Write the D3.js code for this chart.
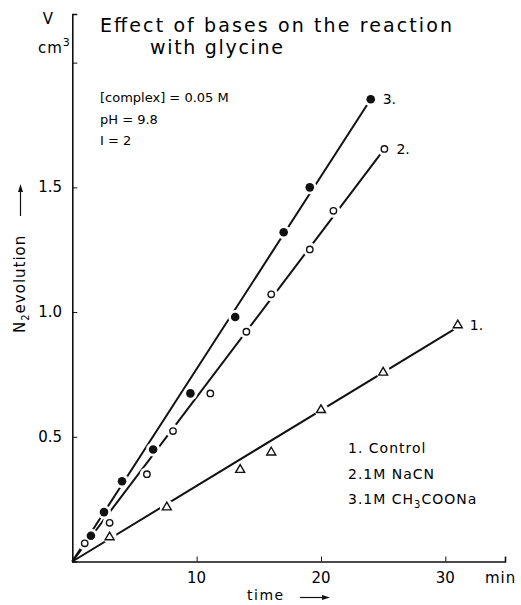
<!DOCTYPE html>
<html>
<head>
<meta charset="utf-8">
<script src="https://cdn.jsdelivr.net/npm/d3@7"></script>
<style>
  body { margin: 0; background: #fff; }
  svg { font-family: 'DejaVu Sans', sans-serif; }
  .axis path, .axis line { stroke: #111; }
</style>
</head>
<body>
<svg id="chart" width="521" height="605"></svg>
<script>
// data: [time (min), V (cm3)]
let control = [[3.0, 0.10], [7.6, 0.22], [13.5, 0.37], [16.0, 0.44], [20.0, 0.61], [25.0, 0.76], [31.0, 0.95]]
let nacn = [[1.0, 0.073], [3.0, 0.155], [6.0, 0.35], [8.1, 0.523], [11.1, 0.674], [14.0, 0.921], [16.0, 1.071], [19.1, 1.251], [21.0, 1.406], [25.1, 1.654]]
let acetate = [[1.5, 0.103], [2.55, 0.198], [4.0, 0.322], [6.5, 0.449], [9.5, 0.674], [13.1, 0.98], [17.0, 1.32], [19.1, 1.50], [24.0, 1.853]]
// straight lines drawn through each set
let fitControl = [[0, 0], [31.0, 0.94]]
let fitNacn = [[0, 0], [25.1, 1.654]]
let fitAcetate = [[0, 0], [24.0, 1.853]]
let xTicks = [10, 20, 30]
let yTicks = [0.5, 1.0, 1.5, 2.0]
let yTickLabels = ['0.5', '1.0', '1.5', '']
let legendLines = ['1. Control', '2.1M NaCN', '3.1M CH3COONa']
let notes = ['[complex] = 0.05 M', 'pH = 9.8', 'I = 2']

let svg = d3.select('#chart')
let x = d3.scaleLinear().domain([0, 34.8]).range([72.3, 505])
let y = d3.scaleLinear().domain([0, 2.195]).range([561.5, 14])

// axes, ticks pointing inward
let xAxis = d3.axisTop(x).tickValues(xTicks).tickSize(5).tickFormat('')
svg.append('g').attr('class', 'axis').attr('transform', 'translate(0,' + y(0) + ')').call(xAxis)
    .call(g => g.select('.domain').attr('stroke-width', 1.6))
let yAxis = d3.axisRight(y).tickValues(yTicks).tickSize(5).tickFormat('')
svg.append('g').attr('class', 'axis').attr('transform', 'translate(' + x(0) + ',0)').call(yAxis)
    .call(g => g.select('.domain').attr('stroke-width', 1.6))

// tick labels
svg.selectAll('.xlab').data(xTicks).enter().append('text')
    .attr('x', d => x(d)).attr('y', 583).attr('text-anchor', 'middle')
    .attr('font-size', 15).text(d => d)
svg.selectAll('.ylab').data(yTicks).enter().append('text')
    .attr('x', 62).attr('y', d => y(d) + 5).attr('text-anchor', 'end')
    .attr('font-size', 15).text((d, i) => yTickLabels[i])

// axis titles
svg.append('text').attr('x', 485).attr('y', 583).attr('font-size', 15)
    .attr('letter-spacing', 1).text('min')
svg.append('text').attr('x', 247).attr('y', 600).attr('font-size', 14)
    .attr('letter-spacing', 1.5).text('time')
svg.append('line').attr('x1', 300).attr('x2', 324).attr('y1', 597.5).attr('y2', 597.5)
    .attr('stroke', '#111').attr('stroke-width', 1.2)
svg.append('path').attr('d', 'M322,595 L330,597.5 L322,600 Z').attr('fill', '#111')

svg.append('text').attr('x', 48).attr('y', 24).attr('font-size', 15)
    .attr('text-anchor', 'middle').text('V')
let cm = svg.append('text').attr('x', 38).attr('y', 53).attr('font-size', 15).attr('letter-spacing', 1)
cm.append('tspan').text('cm')
cm.append('tspan').attr('dy', -7).attr('font-size', 11).text('3')

let yl = svg.append('text').attr('transform', 'translate(25,333) rotate(-90)')
    .attr('font-size', 15).attr('letter-spacing', 1)
yl.append('tspan').text('N')
yl.append('tspan').attr('dy', 4).attr('font-size', 10).text('2')
yl.append('tspan').attr('dy', -4).text('evolution')
svg.append('line').attr('x1', 20.5).attr('x2', 20.5).attr('y1', 216).attr('y2', 190)
    .attr('stroke', '#111').attr('stroke-width', 1.2)
svg.append('path').attr('d', 'M18,192 L20.5,184 L23,192 Z').attr('fill', '#111')

// title
svg.append('text').attr('x', 100).attr('y', 32).attr('font-size', 19)
    .attr('textLength', 352).attr('lengthAdjust', 'spacing')
    .text('Effect of bases on the reaction')
svg.append('text').attr('x', 150).attr('y', 54).attr('font-size', 19)
    .attr('textLength', 133).attr('lengthAdjust', 'spacing')
    .text('with glycine')

// conditions
svg.selectAll('.note').data(notes).enter().append('text')
    .attr('x', 100).attr('y', (d, i) => 102 + i * 21.5)
    .attr('font-size', 13).text(d => d)

// legend
let leg = svg.selectAll('.leg').data(legendLines).enter().append('text')
    .attr('x', 348).attr('y', (d, i) => 453 + i * 25.5)
    .attr('font-size', 14).attr('letter-spacing', 1)
leg.each(function (d) {
    let t = d3.select(this)
    if (d.indexOf('CH3') !== -1) {
        t.append('tspan').text('3.1M CH')
        t.append('tspan').attr('dy', 4).attr('font-size', 10).text('3')
        t.append('tspan').attr('dy', -4).text('COONa')
    } else {
        t.text(d)
    }
})

// fitted lines
let line = d3.line().x(d => x(d[0])).y(d => y(d[1]))
;[fitControl, fitNacn, fitAcetate].forEach(f => {
    svg.append('path').datum(f).attr('d', line)
        .attr('fill', 'none').attr('stroke', '#111').attr('stroke-width', 2)
})

// white halos cut the lines around the markers
let allPts = control.concat(nacn).concat(acetate)
svg.selectAll('.halo').data(allPts).enter().append('circle')
    .attr('cx', d => x(d[0])).attr('cy', d => y(d[1])).attr('r', 7).attr('fill', '#fff')

// markers
svg.selectAll('.tri').data(control).enter().append('path')
    .attr('transform', d => 'translate(' + x(d[0]) + ',' + y(d[1]) + ')')
    .attr('d', 'M0,-4.5 L4.5,3.2 L-4.5,3.2 Z')
    .attr('fill', '#fff').attr('stroke', '#111').attr('stroke-width', 1.4)
svg.selectAll('.open').data(nacn).enter().append('circle')
    .attr('cx', d => x(d[0])).attr('cy', d => y(d[1])).attr('r', 3.2)
    .attr('fill', '#fff').attr('stroke', '#111').attr('stroke-width', 1.4)
svg.selectAll('.fill').data(acetate).enter().append('circle')
    .attr('cx', d => x(d[0])).attr('cy', d => y(d[1])).attr('r', 4.3)
    .attr('fill', '#111')

// curve numbers at line ends
let ends = [[control[control.length - 1], '1.'], [nacn[nacn.length - 1], '2.'], [acetate[acetate.length - 1], '3.']]
svg.selectAll('.num').data(ends).enter().append('text')
    .attr('x', d => x(d[0][0]) + 12).attr('y', d => y(d[0][1]) + 5)
    .attr('font-size', 14).text(d => d[1])
</script>
</body>
</html>
